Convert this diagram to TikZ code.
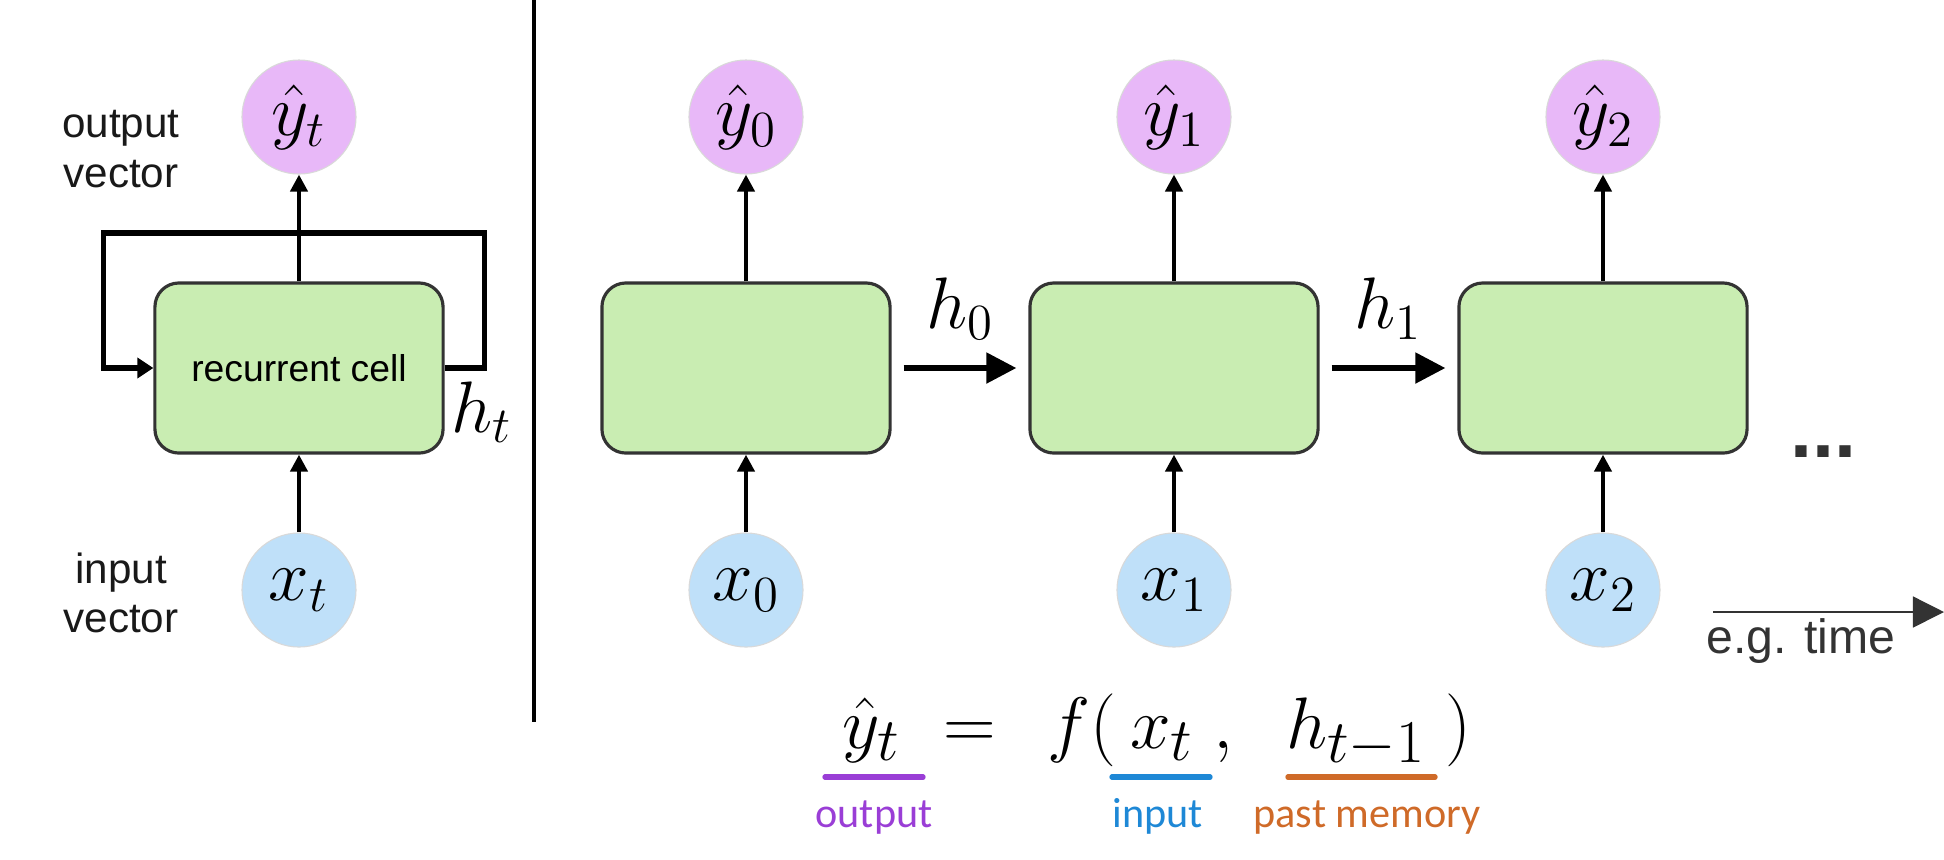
\documentclass[tikz,border=0pt]{standalone}
\usepackage[no-math]{fontspec}
\setmainfont{Liberation Sans}
\newfontfamily\memofont{Carlito}
\usetikzlibrary{arrows.meta,positioning}
\definecolor{cellgreen}{HTML}{C9EDB2}
\definecolor{outpink}{HTML}{E8B8F8}
\definecolor{inblue}{HTML}{BFE0F9}
\definecolor{outline}{HTML}{9A3ED6}
\definecolor{inline}{HTML}{1E88D6}
\definecolor{memline}{HTML}{CF6A28}
\definecolor{inkgray}{HTML}{333333}

\begin{document}
\begin{tikzpicture}[x=0.01cm, y=-0.01cm,
    cell/.style={rectangle, rounded corners=0.24cm, draw=black!80, line width=0.9pt, fill=cellgreen, minimum width=2.88cm, minimum height=1.70cm, inner sep=0pt, font=\fontsize{10.6pt}{12pt}\selectfont},
    outnode/.style={circle, fill=outpink, draw=black!15, line width=0.3pt, minimum size=1.14cm, inner sep=0pt, font=\fontsize{19.5pt}{23pt}\selectfont},
    innode/.style={outnode, fill=inblue},
    flow/.style={line width=1.2pt, -{Triangle[length=0.17cm, width=0.17cm]}},
    loopflow/.style={line width=1.6pt, -{Triangle[length=0.16cm, width=0.20cm]}},
    hflow/.style={line width=1.5pt, -{Triangle[length=0.30cm, width=0.30cm]}, shorten <=0.12cm, shorten >=0.12cm},
    hlabel/.style={inner sep=0pt, font=\fontsize{19.5pt}{23pt}\selectfont},
    sidetext/.style={align=center, inner sep=0pt, text=black!90, font=\fontsize{12pt}{14pt}\selectfont},
    formula/.style={anchor=base, inner sep=0pt, font=\fontsize{22.7pt}{27pt}\selectfont},
    uline/.style={line width=1.5pt, line cap=round},
    memo/.style={anchor=base, inner sep=0pt, font=\memofont\fontsize{12pt}{14pt}\selectfont}]
  \useasboundingbox (0,0) rectangle (1944,859);

  % folded cell
  \node[cell] (cellt) at (299,368) {recurrent cell};
  \node[outnode] (yt) at (299,117) {$\hat{y}_t$};
  \node[innode] (xt) at (299,590) {$x_t$};
  \node[sidetext] (outtext) at (121,149) {output\\vector};
  \node[sidetext] (intext) at (121,593) {input\\vector};
  \draw[flow] (cellt) -- (yt);
  \draw[flow] (xt) -- (cellt);
  \draw[loopflow] (cellt.east) -- ++(40,0) -- ++(0,-135) -- ++(-381,0) -- ++(0,135) -- (cellt.west);
  \node[hlabel, anchor=base] (ht) at (482,432) {$h_t$};

  % separator
  \coordinate (sepa) at (534,0);
  \coordinate (sepb) at (534,722);
  \draw[line width=0.9pt] (sepa) -- (sepb);

  % unrolled cells
  \foreach \i/\x in {0/746,1/1174,2/1603}{
    \node[cell] (c\i) at (\x,368) {};
    \node[outnode] (y\i) at (\x,117) {$\hat{y}_\i$};
    \node[innode] (x\i) at (\x,590) {$x_\i$};
    \draw[flow] (c\i) -- (y\i);
    \draw[flow] (x\i) -- (c\i);
  }
  \draw[hflow] (c0) -- (c1) node[hlabel, midway, above=0.26cm] (h0) {$h_0$};
  \draw[hflow] (c1) -- (c2) node[hlabel, midway, above=0.26cm] (h1) {$h_1$};
  \node[anchor=base, inner sep=0pt, text=inkgray, font=\bfseries\fontsize{22.5pt}{26pt}\selectfont] (more) at (1823,457) {...};

  % time axis
  \coordinate (tstart) at (1713,612);
  \coordinate (tend) at (1944,612);
  \draw[inkgray, line width=0.4pt, -{Triangle[length=0.31cm, width=0.31cm]}] (tstart) -- (tend);
  \node[anchor=base, inner sep=0pt, text=inkgray, font=\fontsize{13.7pt}{16pt}\selectfont] (time) at (1801,653) {e.g. time};

  % formula
  \node[formula] (fy) at (872,748) {$\hat{y}_t$};
  \node[formula] (feq) at (970,748) {$=$};
  \node[formula] (ff) at (1082,748) {$f($};
  \node[formula] (fx) at (1162,748) {$x_t$};
  \node[formula] (fc) at (1223,748) {$,$};
  \node[formula] (fh) at (1356,748) {$h_{t-1}$};
  \node[formula] (fp) at (1458,748) {$)$};
  \draw[uline, outline] ([xshift=-0.47cm, yshift=-0.29cm]fy.base) -- ([xshift=0.51cm, yshift=-0.29cm]fy.base);
  \draw[uline, inline] ([xshift=-0.50cm, yshift=-0.29cm]fx.base) -- ([xshift=0.48cm, yshift=-0.29cm]fx.base);
  \draw[uline, memline] ([xshift=-0.68cm, yshift=-0.29cm]fh.base) -- ([xshift=0.79cm, yshift=-0.29cm]fh.base);
  \node[memo, text=outline] (lout) at (874,827) {output};
  \node[memo, text=inline] (lin) at (1158,827) {input};
  \node[memo, text=memline] (lmem) at (1367,827) {past memory};
\end{tikzpicture}
\end{document}
